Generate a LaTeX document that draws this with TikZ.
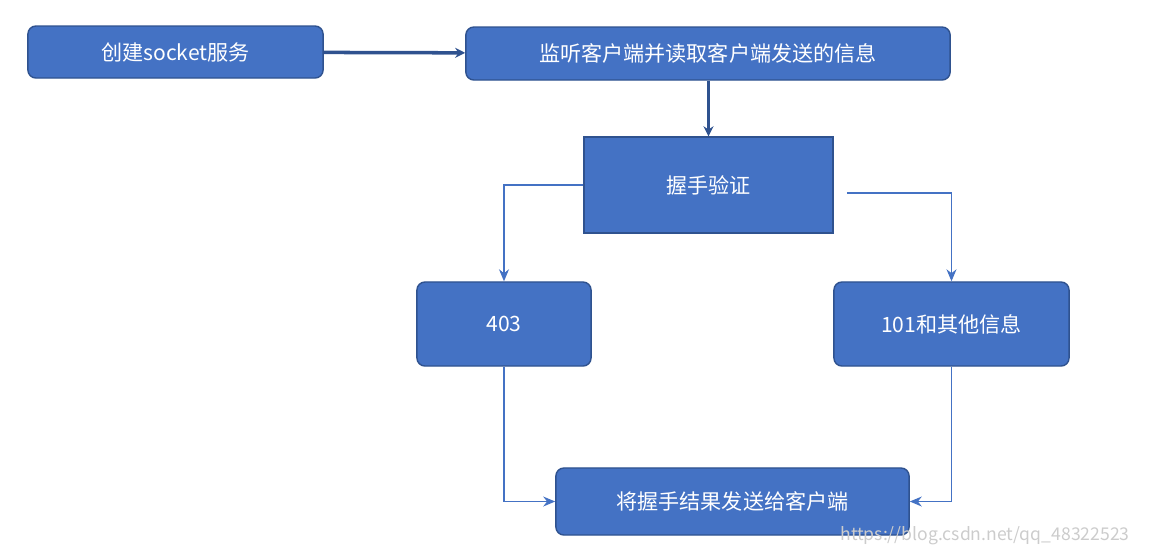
\documentclass[tikz,border=0pt]{standalone}
\usepackage{fontspec}
\setmainfont{Noto Sans CJK SC}
\definecolor{boxblue}{HTML}{4472C4}
\definecolor{boxline}{HTML}{2F528F}
\usetikzlibrary{arrows.meta}
\begin{document}
\begin{tikzpicture}[x=0.01cm,y=-0.01cm,
	box/.style={draw=boxline,fill=boxblue,text=white,rounded corners=0.8mm,font=\fontsize{6}{7}\selectfont,inner sep=0pt},
	link/.style={draw=boxblue,-{Stealth[length=1.2mm,width=1mm]},line width=0.3pt},
	bold/.style={draw=boxline,-{Stealth[length=1mm,width=1mm]},line width=1pt}]
	
	\useasboundingbox (0,0) rectangle (1150,553);
	
	\node[box,minimum width=2.95cm,minimum height=0.52cm] (create) at (175.5,52) {创建socket服务};
	\node[box,minimum width=4.84cm,minimum height=0.53cm] (listen) at (708,53.5) {监听客户端并读取客户端发送的信息};
	\node[box,rounded corners=0pt,minimum width=2.49cm,minimum height=0.96cm] (shake) at (708.5,185) {握手验证};
	\node[box,minimum width=1.74cm,minimum height=0.84cm] (deny) at (504,324) {403};
	\node[box,minimum width=2.35cm,minimum height=0.84cm] (ok) at (951.5,324) {101和其他信息};
	\node[box,minimum width=3.53cm,minimum height=0.67cm] (result) at (732.5,501.5) {将握手结果发送给客户端};
	
	\coordinate (gap) at (847,193);
	
	\draw[bold] (create) -- (listen);
	\draw[bold] (listen.south -| shake.north) -- (shake);
	
	\draw[link] (shake.west) -| (deny.north);
	\draw[link] (gap) -| (ok.north);
	\draw[link] (deny.south) |- (result.west);
	\draw[link] (ok.south) |- (result.east);
	
	\node[text=gray!40,font=\fontsize{5}{6}\selectfont,anchor=east] (mark) at (1142,536) {https://blog.csdn.net/qq\_48322523};
	
\end{tikzpicture}
\end{document}
